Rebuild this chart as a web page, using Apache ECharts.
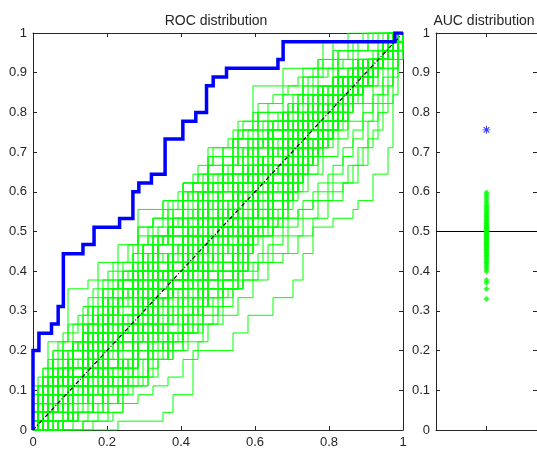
<!DOCTYPE html>
<html>
<head>
<meta charset="utf-8">
<script src="https://cdn.jsdelivr.net/npm/echarts@6/dist/echarts.min.js"></script>
<style>
  html, body { margin: 0; padding: 0; background: #fff; }
  #chart { width: 537px; height: 453px; }
</style>
</head>
<body>
<div id="chart"></div>
<script>
// ROC permutation test: observed ROC (blue) vs permuted-label ROCs (green)

const N_NEG = 74;   // x step count of the permuted curves
const N_POS = 45;   // y step count

const ROC_CORNERS = [
  0, 0.2, 0.016, 0.244, 0.05, 0.267, 0.068, 0.311, 0.082, 0.444, 0.135, 0.467,
  0.165, 0.511, 0.234, 0.533, 0.27, 0.6, 0.286, 0.622, 0.32, 0.644, 0.357, 0.733,
  0.405, 0.778, 0.44, 0.8, 0.469, 0.867, 0.487, 0.889, 0.523, 0.911, 0.662, 0.933,
  0.676, 0.978, 0.978, 1, 1, 1
];

// permuted ROCs (outer ones), same corner format in step units
const PERM_CURVES = [
  [0,5, 3,10, 7,16, 11,17, 13,19, 17,21, 21,25, 26,26, 30,27, 36,29, 38,32, 41,35, 44,39, 50,41, 58,44, 66,45, 74,45],
  [17,1, 23,1, 26,2, 28,4, 32,9, 37,9, 40,11, 43,13, 48,15, 52,17, 54,20, 56,23, 60,24, 64,25, 65,26, 68,29, 71,32, 72,38, 73,42, 74,45],
  [0,2, 2,5, 4,7, 6,8, 8,10, 11,12, 13,13, 15,15, 18,17, 20,18, 23,20, 25,21, 28,23, 30,25, 33,27, 36,28, 39,30, 41,32, 44,33, 47,35, 50,36, 53,38, 56,40, 59,41, 62,42, 65,43, 69,44, 72,45, 74,45],
  [2,0, 5,1, 7,2, 10,3, 12,5, 15,6, 18,8, 21,9, 23,11, 26,12, 29,14, 32,15, 34,17, 37,19, 40,20, 43,22, 46,24, 49,25, 52,27, 55,29, 58,31, 61,33, 63,35, 66,37, 68,39, 70,41, 72,43, 73,44, 74,45],
  [0,3, 1,6, 3,8, 5,10, 7,12, 10,14, 12,16, 15,18, 17,19, 20,21, 23,23, 26,25, 29,27, 32,29, 35,31, 38,32, 41,34, 44,36, 47,37, 50,39, 53,40, 56,41, 60,42, 63,43, 67,44, 71,45, 74,45],
  [4,0, 8,1, 11,2, 14,3, 17,4, 19,5, 22,6, 25,8, 27,9, 30,11, 33,12, 36,14, 38,16, 41,17, 44,19, 47,21, 50,23, 53,25, 56,27, 59,29, 62,31, 64,33, 66,35, 68,37, 70,39, 72,41, 73,43, 74,45],
  [0,1, 2,3, 4,5, 6,6, 8,8, 10,9, 12,10, 14,11, 16,12, 18,13, 20,14, 22,15, 25,16, 28,17, 31,18, 33,19, 36,20, 39,22, 42,24, 45,25, 48,27, 51,29, 54,31, 57,33, 60,35, 63,37, 66,39, 69,41, 71,43, 74,45],
  [2,0, 4,1, 6,2, 9,3, 11,4, 13,5, 16,6, 18,8, 20,10, 22,12, 24,14, 26,15, 28,17, 30,19, 32,21, 34,22, 37,24, 39,26, 42,28, 45,30, 48,32, 51,34, 54,36, 57,38, 60,39, 63,41, 66,42, 69,43, 72,44, 74,45],
  [0,4, 2,7, 4,9, 6,11, 9,13, 11,15, 13,17, 16,19, 19,21, 21,23, 24,24, 27,26, 30,28, 33,30, 36,32, 39,33, 42,35, 45,37, 48,38, 51,39, 54,41, 57,42, 61,43, 65,44, 69,45, 74,45],
  [5,0, 9,0, 12,1, 15,2, 18,3, 21,4, 24,5, 27,6, 30,8, 33,10, 35,12, 38,13, 41,15, 44,17, 47,19, 50,20, 53,22, 56,24, 59,26, 62,28, 65,30, 67,33, 69,36, 71,39, 72,41, 73,43, 74,45],
  [0,2, 1,4, 3,6, 5,8, 7,9, 9,10, 11,11, 13,12, 15,13, 17,14, 19,15, 21,16, 23,17, 25,18, 27,19, 29,20, 31,21, 33,22, 35,23, 37,24, 39,25, 42,26, 44,28, 46,29, 48,31, 50,32, 53,34, 55,35, 58,37, 60,38, 63,40, 66,42, 69,43, 72,44, 74,45],
  [3,0, 6,1, 9,2, 12,3, 15,4, 17,5, 19,6, 21,8, 23,10, 25,12, 27,14, 29,16, 31,18, 33,20, 35,22, 37,24, 39,26, 41,28, 43,29, 46,31, 49,33, 52,35, 55,37, 58,39, 61,40, 64,41, 67,42, 70,44, 74,45],
  [6,0, 10,1, 13,1, 16,2, 18,4, 20,5, 23,7, 25,8, 28,9, 31,10, 34,12, 37,14, 40,16, 42,18, 45,20, 48,22, 51,24, 54,26, 57,28, 60,30, 62,32, 64,34, 66,36, 68,38, 70,40, 72,42, 74,45],
  [1,0, 3,2, 5,3, 8,4, 10,6, 13,8, 15,10, 18,12, 20,14, 23,16, 25,18, 28,20, 30,22, 33,24, 35,26, 38,28, 40,30, 43,32, 46,34, 49,36, 52,38, 55,40, 58,42, 61,43, 64,44, 68,45, 74,45],
  [0,3, 2,6, 4,8, 6,9, 9,10, 12,10, 15,11, 18,12, 21,13, 24,14, 27,16, 30,18, 33,19, 36,21, 39,23, 42,25, 45,27, 48,29, 51,31, 54,33, 57,34, 60,36, 63,38, 66,40, 69,42, 72,44, 74,45],
  [1,1, 3,3, 5,4, 8,5, 11,7, 14,9, 16,11, 19,13, 22,15, 24,17, 27,19, 30,22, 33,25, 36,27, 39,29, 42,31, 45,33, 48,35, 51,37, 54,39, 57,41, 60,43, 63,44, 67,45, 74,45],
  [3,0, 6,1, 9,2, 12,4, 15,5, 18,7, 21,8, 24,10, 27,11, 30,13, 33,14, 36,15, 39,16, 42,17, 45,19, 48,20, 51,22, 54,24, 57,26, 60,28, 63,30, 65,32, 67,35, 69,38, 71,41, 73,43, 74,45],
  [0,1, 3,2, 6,4, 9,6, 12,7, 15,9, 18,11, 21,13, 24,15, 27,17, 30,19, 33,21, 36,23, 39,25, 42,28, 45,31, 48,34, 51,37, 54,40, 57,42, 60,44, 63,45, 74,45],
  [3,0, 7,0, 10,1, 13,2, 15,3, 17,5, 19,7, 21,9, 23,11, 25,13, 27,14, 30,16, 33,18, 36,20, 39,22, 42,24, 45,26, 48,28, 51,30, 54,32, 57,34, 60,36, 63,38, 66,40, 69,42, 72,44, 74,45],
  [0,1, 2,2, 4,3, 6,4, 8,5, 11,6, 14,7, 17,8, 20,9, 23,11, 26,13, 29,15, 32,17, 35,19, 38,20, 41,21, 44,22, 47,23, 50,24, 53,25, 56,26, 59,27, 62,28, 64,30, 66,32, 68,34, 70,37, 72,40, 73,43, 74,45],
  [0,2, 1,5, 2,7, 4,9, 6,10, 8,12, 10,13, 12,14, 14,15, 16,16, 18,17, 20,18, 23,19, 26,20, 29,21, 32,22, 35,23, 38,24, 41,26, 44,28, 47,30, 50,32, 53,34, 56,36, 59,38, 62,40, 65,42, 68,43, 71,44, 74,45],
  [2,0, 5,1, 8,2, 11,3, 14,5, 17,6, 20,8, 23,9, 26,11, 29,13, 32,15, 35,17, 38,19, 41,22, 44,25, 47,28, 50,31, 52,34, 55,37, 58,39, 61,41, 64,43, 67,44, 70,45, 74,45]
];

// permuted ROCs (dense core): digit i = up-steps taken at column i before one step right
const PERM_COLUMNS = [
  "2001030000 1011011010 1020000210 0002200020 0110110101 3000100020 0010400010 2010",
  "0003200200 1200202000 3000100020 1101010110 0300120000 2010020000 0000310010 0030",
  "0102000020 0003001100 0010400010 2001030000 1010111001 0040010020 2110030000 1002",
  "2300100020 3002000110 1020000210 0300120000 1001101001 1200000200 0102000020 2010",
  "2000110000 0000310010 2010020000 0002200020 1110110110 0003200200 1200202000 1300",
  "3021000210 2110030000 3000100020 0003001100 0102000020 0110010101 1200000200 0030",
  "2000000100 0000220000 1200000200 0010400010 3002000110 0202200011 1030003010 2002",
  "1200202000 0300120000 1101101010 0000310010 2001030000 1020000210 3000100020 1002",
  "2010020000 0002200020 0010400010 0040010020 0300120000 0110110101 2001030000 2010",
  "1020000210 3002000110 0003200200 3000100020 1011011010 0102000020 0003001100 0030",
  "0300120000 1200000200 0000310010 2001030000 0010400010 2110030000 1011101101 1002",
  "3110301010 1030003010 0002200020 2010020000 0003001100 0003000100 0100002001 2010",
  "0020000000 0001200000 0102000020 1020000210 4000120010 0220300110 2300100020 1300",
  "0202200011 1110111011 0040010020 3000100020 1200000200 1000000030 2000110000 0030",
  "0100002001 0000220000 0003001100 2001030000 1200202000 2300100020 4000120010 1002",
  "0002200020 0010400010 2110030000 0003200200 1020000210 0102000020 1010101010 2010",
  "0003001100 2010020000 0000310010 3000100020 0300120000 3002000110 0202200011 0030",
  "0040010020 1200202000 3002000110 1101010110 2001030000 1200000200 1000000030 1002",
  "3000100020 0102000020 0300120000 0010400010 1020000210 0002200020 0003200200 2010",
  "1200000200 2001030000 0002200020 0110110101 3000100020 0300120000 0010400010 2002",
  "2110030000 1020000210 0040010020 0300120000 2001030000 0000310010 0102000020 0030",
  "1000000030 1200000200 2001030000 1020000210 3002000110 0040010020 1200202000 1002",
  "2003012100 2300100020 0010400010 3000100020 2010020000 0000220000 0003000100 2010",
  "0000010020 2000110000 0300120000 0010400010 0003200200 4000120010 1030003010 0030",
  "0010400010 3000100020 2001030000 0002200020 1020000210 0300120000 2010020000 1300",
  "3002000110 0002200020 1020000210 2001030000 0010400010 3000100020 0003001100 1002",
  "0000310010 0300120000 1200000200 1020000210 2110030000 2001030000 0040010020 2010",
  "4000120010 0003200200 2110030000 0010400010 0002200020 0102000020 0100002001 0200",
  "0000220000 1000000030 3000100020 1200202000 0003200200 3002000110 2110030000 0030",
  "2001030000 0040010020 0300120000 3000100020 0102000020 0010400010 1020000210 1002",
  "0102000020 1200000200 1020000210 0010400010 0002200020 2001030000 3002000110 2002",
  "0420201010 0220300110 1200202000 0000310010 2000110000 0100002001 0300000000 2010",
  "0000001100 0000010020 0003000100 3000100020 1030003010 3021000210 2003012100 1300",
  "0002200020 1020000210 0102000020 0300120000 0040010020 0010400010 2001030000 0030",
  "3002000110 2110030000 0010400010 1020000210 3000100020 0003001100 1200000200 1002",
  "0300120000 2010020000 2001030000 3002000110 3000100020 0002200020 1020000210 2010",
  "0210020200 0130200110 1002110020 0200031000 0020100200 3000000110 0020001010 0111",
  "0020001010 0100002001 3000000110 1100200110 0210020200 0130200110 0202200011 0210",
  "1100200110 1002110020 0020100200 0200031000 1200202000 0110110101 3000000110 0111",
  "3000000110 0020100200 0210020200 1002110020 0200031000 1100200110 1011011010 0210",
  "0130200110 0200031000 1100200110 0300120000 1101101010 0020100200 3000000110 0111",
  "0010000200 3000000110 0200031000 1002110020 0210020200 1011101101 1002110020 0210",
  "1200301110 3021000210 0210020200 3000000110 0020001010 2000110000 1000000030 0111",
  "0020100200 1100200110 0200031000 1010111001 1100200110 0200031000 0210020200 0210",
  "1002110020 0200031000 1100200110 0210020200 3000000110 1101010110 0020100200 0111",
  "0020001010 0200031000 1011011010 1100200110 0200031000 1002110020 0210020200 0210",
  "1100200110 0110110101 0200031000 1002110020 0210020200 3000000110 0020100200 0111",
  "1000000001 0020001010 3000000110 0210020200 0130200110 1110111011 0130200110 0210",
  "0130200110 1101111101 0200031000 1100200110 3000000110 0020100200 0020001010 0111",
  "0200031000 3000000110 1100200110 1101101010 0210020200 0200031000 1100200110 0210",
  "0020100200 1002110020 0200031000 1100200110 0110110101 0200031000 1100200110 0111",
  "1002110020 0210020200 1101110101 1002110020 0020100200 3000000110 0020001010 0210",
  "0020001010 0020100200 3000000110 0200031000 1002110020 0210020200 0130200110 0111",
  "0200031000 1100200110 0210020200 1010111001 0200031000 1100200110 3000000110 0210",
  "2020300120 1002110020 1100200110 0020100200 3000000110 1001101001 0020001010 0111",
  "0010000200 0100100010 0020100200 1100200110 0130200110 1101111101 1200301110 0210",
  "1100200110 0200031000 1101010110 0020100200 1100200110 1002110020 0200031000 0111",
  "0210020200 3000000110 0200031000 1100200110 0200031000 1011011010 1100200110 0210",
  "3000000110 1100200110 1002110020 0200031000 0110110101 1100200110 0200031000 0111",
  "0200031000 0210020200 1100200110 0200031000 1100200110 1010111001 0020100200 0210",
  "3021000210 0220300110 2300100020 2001030000 2000110000 2000000100 0001200000 2010",
  "0000010020 0300000000 0003000100 0300120000 0202200011 2003012100 1200301110 0111",
  "1030003010 4000120010 0130200110 2110030000 2010020000 0010000200 0100100010 0210",
  "2000000100 0000010020 0003001100 0003200200 2300100020 1110111011 1030003010 1002",
  "3110301010 0202200011 1020000210 0002200020 1200000200 0100002001 0300000000 2010",
  "0020000000 0000220000 0000310010 3000100020 1200202000 3021000210 1111111101 0030",
  "4000120010 2003012100 0040010020 0102000020 0020100200 1000000030 0020001010 0111",
  "2000110000 0001200000 0100002001 0010400010 0130200110 1101111101 0220300110 0210",
  "1200301110 3002000110 0210020200 1002110020 3000000110 0003000100 0000010020 1002",
  "0010000200 0020001010 2000110000 2110030000 0003200200 4000120010 2003012100 2010",
  "1200202000 0220300110 3021000210 0200031000 0000220000 1000000030 2000000100 0030",
  "0003000100 0100002001 0300000000 2010020000 0202200011 1200301110 3021000210 0111",
  "1100200110 2003012100 1111111101 0040010020 0003001100 0001200000 0010000200 0210",
  "1200000200 2000000100 0000010020 0000310010 2300100020 0220300110 2003012100 1002",
  "0130200110 1002110020 1200301110 2001030000 0102000020 0020001010 0300000000 2010",
  "0000001100 0010000200 3000000110 3002000110 3021000210 1030003010 4000120010 0030"
];

// AUC of each permuted curve, and of the observed one
const PERM_AUC = [
  0.33, 0.355, 0.371, 0.378, 0.399, 0.405, 0.41, 0.415, 0.42, 0.423, 0.428, 0.432,
  0.437, 0.44, 0.444, 0.448, 0.452, 0.455, 0.458, 0.461, 0.464, 0.467, 0.47, 0.473,
  0.476, 0.479, 0.482, 0.485, 0.488, 0.49, 0.493, 0.496, 0.499, 0.502, 0.505, 0.508,
  0.511, 0.514, 0.517, 0.52, 0.523, 0.527, 0.531, 0.535, 0.539, 0.543, 0.548, 0.553,
  0.558, 0.563, 0.568, 0.574, 0.58, 0.586, 0.592, 0.598
];
const REAL_AUC = 0.756;
const CHANCE = 0.5;

const AX_CLR = "#262626";
const FONT = "'Liberation Sans', Arial, Helvetica, sans-serif";

// corner pairs -> staircase points
function stairs(corners, sx, sy) {
  const pts = [[0, 0]];
  let py = 0;
  for (let i = 0; i < corners.length; i += 2) {
    const x = corners[i] / sx, y = corners[i + 1] / sy;
    pts.push([x, py], [x, y]);
    py = y;
  }
  return pts;
}

// column digit string -> staircase points
function columns(str) {
  const d = str.replace(/\s/g, "");
  const pts = [[0, 0]];
  let y = 0;
  for (let i = 0; i < d.length; i++) {
    y += +d[i];
    pts.push([i / N_NEG, y / N_POS], [(i + 1) / N_NEG, y / N_POS]);
  }
  if (y < N_POS) pts.push([1, 1]);
  return pts;
}

function axis(extra) {
  return Object.assign({
    type: "value",
    axisLine: { show: true, onZero: false, lineStyle: { color: AX_CLR, width: 1 } },
    axisTick: { show: true, inside: true, length: 4, lineStyle: { color: AX_CLR } },
    axisLabel: { show: true, color: AX_CLR, fontSize: 13, fontFamily: FONT, margin: 6 },
    splitLine: { show: false },
  }, extra);
}
const noLabel = { show: false };

const green = { color: "#00ff00", width: 1 };
const series = [];
PERM_CURVES.forEach((c, i) => {
  series.push({
    name: "perm" + i, type: "line", xAxisIndex: 0, yAxisIndex: 0,
    data: stairs(c, N_NEG, N_POS), symbol: "none", silent: true,
    lineStyle: green, z: 2,
  });
});
PERM_COLUMNS.forEach((c, i) => {
  series.push({
    name: "permc" + i, type: "line", xAxisIndex: 0, yAxisIndex: 0,
    data: columns(c), symbol: "none", silent: true,
    lineStyle: green, z: 2,
  });
});
series.push({
  name: "chance", type: "line", xAxisIndex: 0, yAxisIndex: 0,
  data: [[0, 0], [1, 1]], symbol: "none", silent: true,
  lineStyle: { color: "#000", width: 1.2, type: [4, 2, 1, 2] }, z: 3,
});
series.push({
  name: "roc", type: "line", xAxisIndex: 0, yAxisIndex: 0,
  data: stairs(ROC_CORNERS, 1, 1), symbol: "none", silent: true,
  lineStyle: { color: "#0000ff", width: 3.5, cap: "butt", join: "miter" }, z: 4,
});
series.push({
  name: "half", type: "line", xAxisIndex: 2, yAxisIndex: 2,
  data: [[0, CHANCE], [2, CHANCE]], symbol: "none", silent: true,
  lineStyle: { color: "#000", width: 1 }, z: 2,
});
series.push({
  name: "permAuc", type: "scatter", xAxisIndex: 2, yAxisIndex: 2,
  data: PERM_AUC.map(v => [1, v]), symbol: "diamond", symbolSize: 6,
  itemStyle: { color: "#00ff00" }, z: 3,
});
series.push({
  name: "realAuc", type: "scatter", xAxisIndex: 2, yAxisIndex: 2,
  data: [[1, REAL_AUC]],
  symbol: "path://M-0.6,-5L0.6,-5L0.6,-1.4L3.1,-4L4,-3.1L1.4,-0.6L5,-0.6L5,0.6L1.4,0.6L4,3.1L3.1,4L0.6,1.4L0.6,5L-0.6,5L-0.6,1.4L-3.1,4L-4,3.1L-1.4,0.6L-5,0.6L-5,-0.6L-1.4,-0.6L-4,-3.1L-3.1,-4L-0.6,-1.4Z",
  symbolSize: 8, itemStyle: { color: "#0000ff" }, z: 4,
});

const chart = echarts.init(document.getElementById("chart"), null, { renderer: "canvas" });
chart.setOption({
  backgroundColor: "#fff",
  animation: false,
  title: [
    { text: "ROC distribution", left: 211, top: 9, textAlign: "center",
      textStyle: { fontSize: 14, fontWeight: "normal", color: AX_CLR, fontFamily: FONT } },
    { text: "AUC distribution", left: 479, top: 9, textAlign: "center",
      textStyle: { fontSize: 14, fontWeight: "normal", color: AX_CLR, fontFamily: FONT } },
  ],
  grid: [
    { left: 33, top: 33, width: 370, height: 397 },
    { left: 436, top: 33, right: 0, height: 397 },
  ],
  xAxis: [
    axis({ gridIndex: 0, min: 0, max: 1, interval: 0.2, position: "bottom" }),
    axis({ gridIndex: 0, min: 0, max: 1, interval: 0.2, position: "top", axisLabel: noLabel }),
    axis({ gridIndex: 1, min: 0, max: 2, interval: 1, position: "bottom", axisLabel: noLabel }),
    axis({ gridIndex: 1, min: 0, max: 2, interval: 1, position: "top", axisLabel: noLabel }),
  ],
  yAxis: [
    axis({ gridIndex: 0, min: 0, max: 1, interval: 0.1, position: "left" }),
    axis({ gridIndex: 0, min: 0, max: 1, interval: 0.1, position: "right", axisLabel: noLabel }),
    axis({ gridIndex: 1, min: 0, max: 1, interval: 0.1, position: "left" }),
    axis({ gridIndex: 1, min: 0, max: 1, interval: 0.1, position: "right", axisLabel: noLabel }),
  ],
  series,
});
</script>
</body>
</html>
